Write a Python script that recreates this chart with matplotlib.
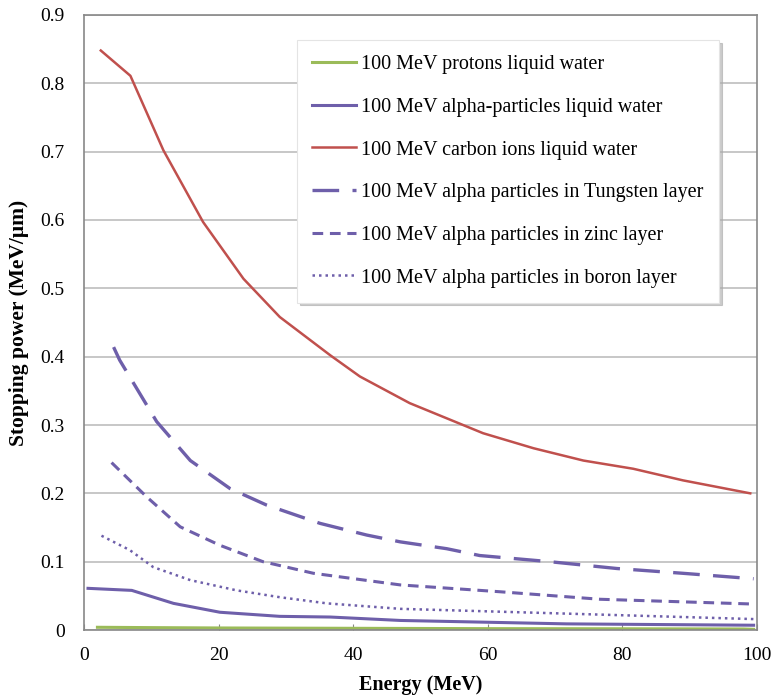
import matplotlib
matplotlib.use("Agg")
import matplotlib.pyplot as plt

plt.rcParams["font.family"] = ["Liberation Serif", "DejaVu Serif"]

# values (energy in MeV, stopping power in MeV/um)
proton_e = [2, 10, 20, 40, 60, 80, 98, 99.5]
proton_s = [0.004, 0.0035, 0.003, 0.0025, 0.002, 0.0018, 0.0015, 0.001]

alpha_e = [0.6, 7.1, 13.3, 20.2, 29.1, 36.6, 47.0, 71.7, 99.5]
alpha_s = [0.061, 0.058, 0.039, 0.026, 0.020, 0.019, 0.014, 0.009, 0.007]

carbon_e = [2.5, 6.9, 11.8, 17.7, 23.7, 29.1, 36.6, 41.0, 48.4, 59.3, 66.8, 74.2, 81.6, 89.0, 99.0]
carbon_s = [0.848, 0.811, 0.702, 0.597, 0.514, 0.458, 0.402, 0.371, 0.332, 0.288, 0.266, 0.248,
            0.236, 0.219, 0.200]

tungsten_e = [4.4, 5.3, 10.8, 15.8, 21.7, 27.1, 35.1, 42.0, 47.0, 53.9, 58.8, 69.2, 79.2, 89.0, 99.5]
tungsten_s = [0.414, 0.395, 0.305, 0.248, 0.207, 0.183, 0.156, 0.139, 0.129, 0.119, 0.109, 0.100,
              0.090, 0.083, 0.075]

zinc_e = [4.1, 9.3, 14.3, 20.2, 26.6, 34.1, 47.0, 61.8, 76.7, 99.5]
zinc_s = [0.245, 0.195, 0.151, 0.124, 0.100, 0.083, 0.066, 0.056, 0.045, 0.038]

boron_e = [2.6, 6.8, 10.3, 15.8, 22.7, 29.1, 36.1, 47.0, 71.7, 99.5]
boron_s = [0.138, 0.117, 0.092, 0.073, 0.058, 0.048, 0.039, 0.031, 0.024, 0.016]

labels = [
    "100 MeV protons liquid water",
    "100 MeV alpha-particles liquid water",
    "100 MeV carbon ions liquid water",
    "100 MeV alpha particles in Tungsten layer",
    "100 MeV alpha particles in zinc layer",
    "100 MeV alpha particles in boron layer",
]

GREEN = "#9BBB59"
PURPLE = "#6E5FAA"
RED = "#C0504D"

fig = plt.figure(figsize=(7.74, 6.97), dpi=100)
ax = fig.add_axes([0.1085, 0.0961, 0.8695, 0.8824])

ax.plot(proton_e, proton_s, color=GREEN, lw=2.2, label=labels[0])
ax.plot(alpha_e, alpha_s, color=PURPLE, lw=2.2, label=labels[1])
ax.plot(carbon_e, carbon_s, color=RED, lw=1.8, label=labels[2])
ax.plot(tungsten_e, tungsten_s, color=PURPLE, lw=2.4, dashes=(8, 4), label=labels[3])
ax.plot(zinc_e, zinc_s, color=PURPLE, lw=2.2, dashes=(3.5, 2.2), label=labels[4])
ax.plot(boron_e, boron_s, color=PURPLE, lw=1.8, dashes=(1, 1.6), label=labels[5])

ax.set_xlim(0, 100)
ax.set_ylim(0, 0.9)
ax.set_xticks([0, 20, 40, 60, 80, 100])
ax.set_yticks([0, 0.1, 0.2, 0.3, 0.4, 0.5, 0.6, 0.7, 0.8, 0.9])
ax.set_yticklabels(["0", "0.1", "0.2", "0.3", "0.4", "0.5", "0.6", "0.7", "0.8", "0.9"])
ax.yaxis.grid(True, color="#BDBDBD", lw=1.2)
ax.set_axisbelow(True)
ax.tick_params(axis="x", direction="in", length=4, color="#888888", labelsize=14, pad=12)
ax.tick_params(axis="y", length=0, labelsize=14, pad=14)
for s in ax.spines.values():
    s.set_color("#888888")
    s.set_linewidth(1.2)

ax.set_xlabel("Energy (MeV)", fontsize=14.5, fontweight="bold", labelpad=8)
ax.set_ylabel("Stopping power (MeV/μm)", fontsize=15.5, fontweight="bold", labelpad=8)

leg = ax.legend(loc="upper left", bbox_to_anchor=(297 / 774, 1 - 40 / 697),
                bbox_transform=fig.transFigure, fontsize=14.5, frameon=True, fancybox=False,
                shadow={"color": "#AAAAAA", "alpha": 0.6}, borderpad=0.75, labelspacing=1.17,
                handlelength=2.2, handletextpad=0.25, borderaxespad=0)
leg.get_frame().set_edgecolor("#E4E4E4")
leg.get_frame().set_linewidth(0.8)

fig.savefig("out.png", dpi=100, facecolor="white")
